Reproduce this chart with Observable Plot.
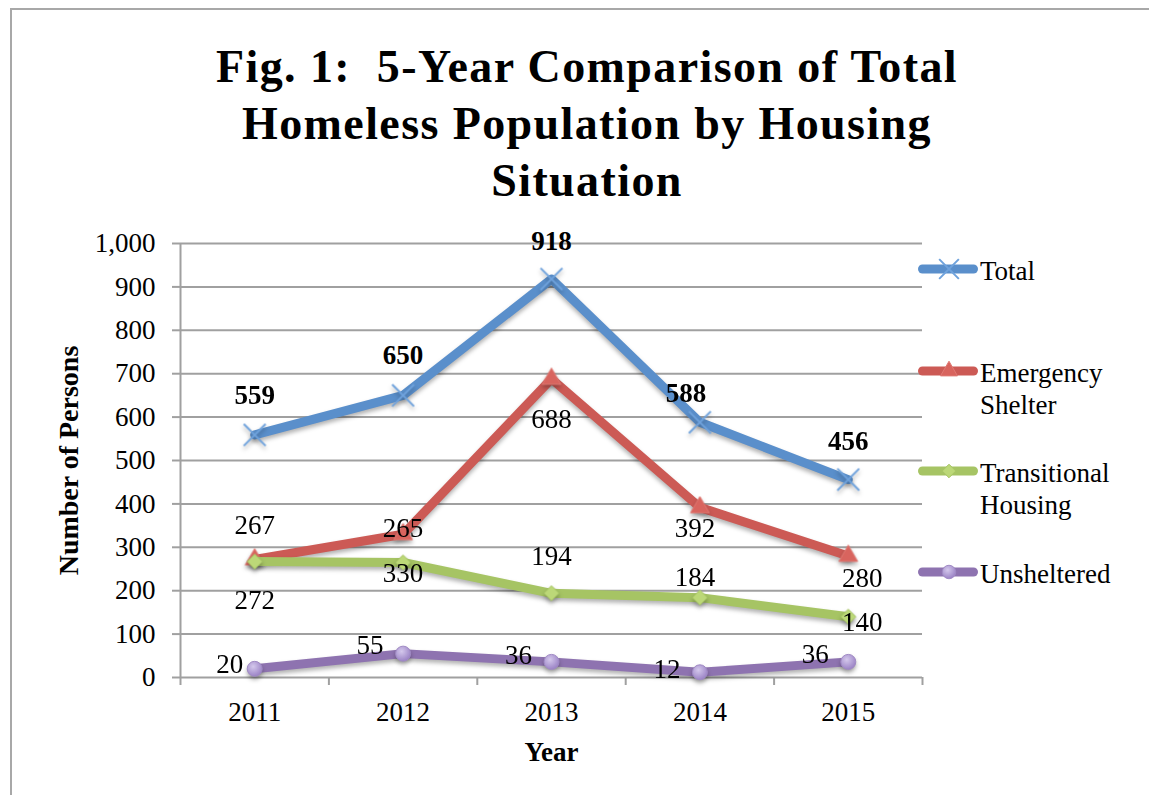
<!DOCTYPE html>
<html><head><meta charset="utf-8">
<script src="https://cdn.jsdelivr.net/npm/d3@7"></script>
<script src="https://cdn.jsdelivr.net/npm/@observablehq/plot@0.6"></script>
<style>
html,body{margin:0;padding:0;background:#fff;overflow:hidden;}
#page{position:relative;width:1149px;height:795px;overflow:hidden;font-family:'Liberation Serif',serif;color:#000;}
#frame{position:absolute;left:10px;top:8px;width:1200px;height:900px;border:2px solid #a8a8a8;box-sizing:border-box;}
#title{position:absolute;left:87px;width:1000px;top:38px;text-align:center;font-weight:bold;font-size:46px;line-height:57px;letter-spacing:1.4px;}
#chart{position:absolute;left:0;top:220px;}
.leg{position:absolute;left:918px;width:230px;height:70px;}
.leg svg{position:absolute;left:0;top:0;overflow:visible;}
.leg .lab{position:absolute;left:62px;top:0;font-size:27px;line-height:32px;white-space:nowrap;}
</style></head>
<body><div id="page"><div id="frame"></div>
<div id="title">Fig. 1:&nbsp; 5-Year Comparison of Total<br>Homeless Population by Housing<br>Situation</div>
<div id="chart"></div><div id="legend"></div></div>
<script>
// ---- data ----
const years = [2011, 2012, 2013, 2014, 2015];
const seriesNames = ["Total", "Emergency Shelter", "Transitional Housing", "Unsheltered"];
const legendLines = [["Total"], ["Emergency", "Shelter"], ["Transitional", "Housing"], ["Unsheltered"]];
const totalValues = [559, 650, 918, 588, 456];
const emergencyValues = [272, 330, 688, 392, 280];
const transitionalValues = [267, 265, 194, 184, 140];
const unshelteredValues = [20, 55, 36, 12, 36];
const yTicks = [0, 100, 200, 300, 400, 500, 600, 700, 800, 900, 1000];
const yLabel = "Number of Persons";
const xLabel = "Year";

// ---- styles ----
const seriesColors = ["#5a8fcb", "#cc5a55", "#a6c464", "#8e73b0"];
const markerStyles = [
  {symbol: "times", r: 10, fill: "none", stroke: "#6fa2dc", strokeWidth: 2},
  {symbol: "triangle", r: 7, fill: "#d8645e", stroke: "#e07a74", strokeWidth: 1},
  {symbol: "diamond2", r: 6.8, fill: "#bcd878", stroke: "#a6c464", strokeWidth: 1},
  {symbol: "circle", r: 7.5, fill: "url(#purpleGrad)", stroke: "#a08ac4", strokeWidth: 1}
];
// label offsets [dx, dy] in px for each series/point, as placed in the reference
const labelOffsets = [
  [[0, -40], [0, -40], [0, -38], [-14, -29], [0, -38]],
  [[0, 41], [0, 39], [0, 40], [-5, 21], [14, 22]],
  [[0, -36], [0, -34], [0, -37], [-5, -20], [14, 6]],
  [[-25, -4], [-33, -8], [-33, -7], [-33, -3], [-33, -8]]
];
const labelWeights = ["bold", "normal", "normal", "normal"];

const seriesValues = [totalValues, emergencyValues, transitionalValues, unshelteredValues];
const data = seriesNames.map((s, i) => years.map((y, j) => ({series: s, year: y, value: seriesValues[i][j]})));
const xDomain = [years[0] - 0.5, years[years.length - 1] + 0.5];
const xEdges = years.map(y => y - 0.5).concat([years[years.length - 1] + 0.5]);

const defs = () => {
  const d = d3.create("svg:defs");
  const g = d.append("radialGradient").attr("id", "purpleGrad").attr("cx", "40%").attr("cy", "35%").attr("r", "65%");
  g.append("stop").attr("offset", "0%").attr("stop-color", "#d4c8ec");
  g.append("stop").attr("offset", "100%").attr("stop-color", "#9c84c6");
  return d.node();
};

const marks = [defs,
  Plot.gridY(yTicks, {stroke: "#a0a0a0", strokeOpacity: 1, strokeWidth: 2}),
  Plot.ruleX([xDomain[0]], {stroke: "#a0a0a0", strokeWidth: 2}),
  Plot.axisY(yTicks, {tickSize: 8, tickPadding: 17, tickFormat: d3.format(","), stroke: "#a0a0a0", strokeWidth: 2, label: null}),
  Plot.axisX(xEdges, {tickSize: 8, tickFormat: () => "", stroke: "#a0a0a0", strokeWidth: 2, label: null}),
  Plot.axisX(years, {tickSize: 0, tickPadding: 24, tickFormat: d => String(d), label: null}),
  Plot.text([yLabel], {text: d => d, frameAnchor: "left", textAnchor: "middle", lineAnchor: "middle", rotate: -90, dx: -111, fontWeight: "bold", fontSize: 28}),
  Plot.text([xLabel], {text: d => d, frameAnchor: "bottom", textAnchor: "middle", lineAnchor: "middle", dy: 75, fontWeight: "bold", fontSize: 27})
];
data.forEach((rows, i) => {
  marks.push(Plot.line(rows, {x: "year", y: "value", stroke: seriesColors[i], strokeWidth: 9, strokeLinejoin: "round", strokeLinecap: "round", className: "shadowed"}));
  marks.push(Plot.dot(rows, {x: "year", y: "value", ...markerStyles[i], className: "shadowed"}));
});
data.forEach((rows, i) => {
  rows.forEach((row, j) => {
    marks.push(Plot.text([row], {x: "year", y: "value", text: d => String(d.value), dx: labelOffsets[i][j][0], dy: labelOffsets[i][j][1], fontWeight: labelWeights[i], fill: "black"}));
  });
});

const chart = Plot.plot({
  width: 1149, height: 575,
  marginLeft: 180, marginRight: 227, marginTop: 23, marginBottom: 118,
  x: {type: "linear", domain: xDomain},
  y: {domain: [0, 1000]},
  style: {fontFamily: "'Liberation Serif', serif", fontSize: "27px", background: "transparent", overflow: "visible", color: "black"},
  marks
});
d3.select(chart).selectAll("g.shadowed").style("filter", "drop-shadow(0px 3px 2px rgba(0,0,0,0.3))");
document.getElementById("chart").append(chart);

// ---- legend ----
const legendTops = [255, 357, 457, 558];
const legend = d3.select("#legend");
seriesNames.forEach((s, i) => {
  const item = legend.append("div").attr("class", "leg").style("top", legendTops[i] + "px");
  const svg = item.append("svg").attr("width", 62).attr("height", 30);
  svg.append("line").attr("x1", 4.5).attr("x2", 55.5).attr("y1", 14).attr("y2", 14)
    .attr("stroke", seriesColors[i]).attr("stroke-width", 9).attr("stroke-linecap", "round");
  const ms = markerStyles[i];
  const symType = {times: d3.symbolTimes, triangle: d3.symbolTriangle, diamond2: d3.symbolDiamond2, circle: d3.symbolCircle}[ms.symbol];
  const rr = ms.r * 0.9;
  if (ms.fill.startsWith("url")) {
    const dd = svg.append("defs").append("radialGradient").attr("id", "pg" + i).attr("cx", "40%").attr("cy", "35%").attr("r", "65%");
    dd.append("stop").attr("offset", "0%").attr("stop-color", "#d4c8ec");
    dd.append("stop").attr("offset", "100%").attr("stop-color", "#9c84c6");
  }
  svg.append("path").attr("transform", "translate(31,14)")
    .attr("d", d3.symbol(symType, Math.PI * rr * rr)())
    .attr("fill", ms.fill.startsWith("url") ? "url(#pg" + i + ")" : ms.fill)
    .attr("stroke", ms.stroke).attr("stroke-width", ms.strokeWidth);
  item.append("div").attr("class", "lab").html(legendLines[i].join("<br>"));
});
</script>
</body></html>
